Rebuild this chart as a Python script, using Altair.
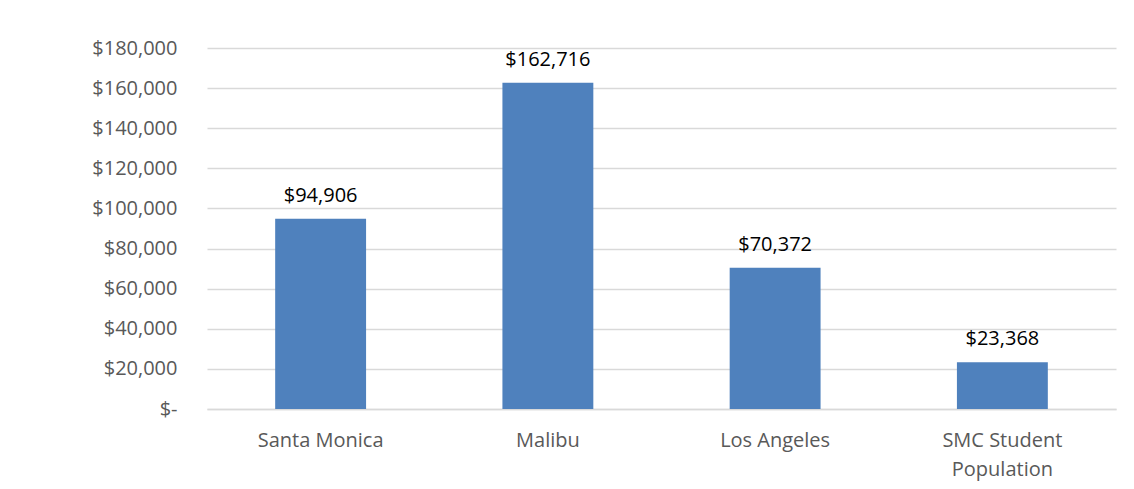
import altair as alt
import pandas as pd

categories = ["Santa Monica", "Malibu", "Los Angeles", "SMC Student Population"]
incomes = [94906, 162716, 70372, 23368]
y_ticks = [0, 20000, 40000, 60000, 80000, 100000, 120000, 140000, 160000, 180000]

df = pd.DataFrame({"area": categories, "income": incomes})
df["label"] = ["$" + format(v, ",") for v in incomes]

FONT = "Open Sans"

x = alt.X("area:N", sort=categories, title=None,
          scale=alt.Scale(paddingInner=0.6, paddingOuter=0.3),
          axis=alt.Axis(labelAngle=0, labelFontSize=20, labelColor="#595959", labelFont=FONT,
                        labelPadding=21, labelLineHeight=29, ticks=False, grid=False,
                        domainColor="#d9d9d9", domainWidth=1.5,
                        labelExpr="datum.value == 'SMC Student Population' ? ['SMC Student', 'Population'] : datum.value"))
y = alt.Y("income:Q", title=None,
          scale=alt.Scale(domain=[0, 180000], nice=False),
          axis=alt.Axis(values=y_ticks, labelFontSize=20, labelColor="#595959", labelFont=FONT,
                        labelPadding=30, ticks=False, domain=False, gridColor="#d9d9d9", gridWidth=1.5,
                        labelExpr="datum.value == 0 ? '$-' : '$' + format(datum.value, ',')"))

bars = alt.Chart(df).mark_bar(color="#4f81bd").encode(x=x, y=y)
text = alt.Chart(df).mark_text(baseline="bottom", dy=-13, fontSize=20, font=FONT, color="#000000").encode(
    x=alt.X("area:N", sort=categories), y="income:Q", text="label:N")

chart = (bars + text).properties(
    width=909, height=361,
    autosize=alt.AutoSizeParams(type="none"),
    padding={"left": 199, "top": 40, "right": 10, "bottom": 72},
    background="white",
).configure_view(stroke=None)

chart.save("out.html", embed_options={"renderer": "svg", "actions": False})
